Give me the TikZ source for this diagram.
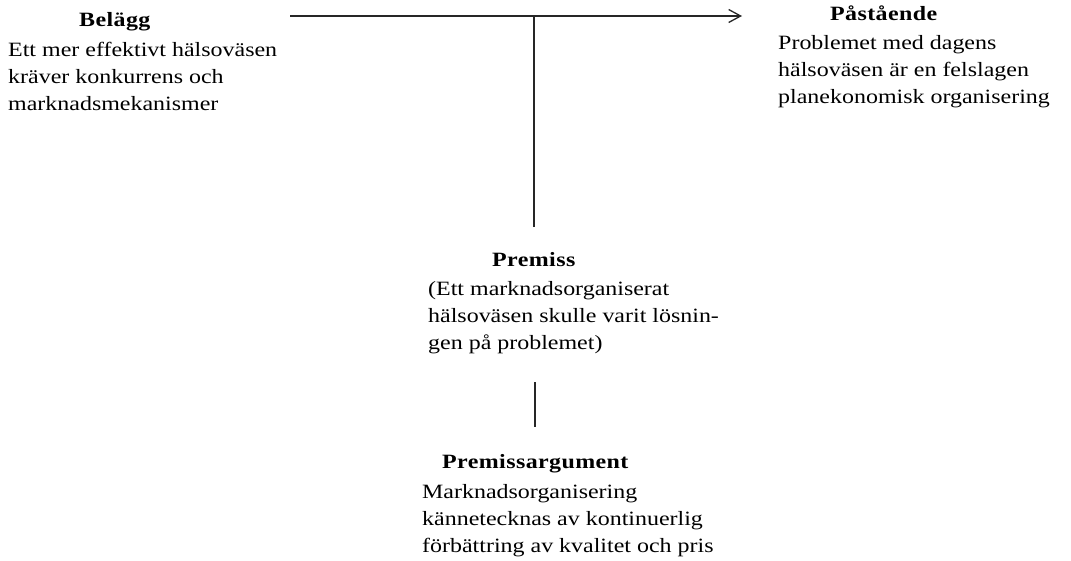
\documentclass[tikz,border=0pt]{standalone}
\usepackage{fontspec}
\setmainfont{Liberation Serif}[FakeStretch=1.18]
\newfontfamily\headfont{Liberation Serif}[FakeStretch=1.18,LetterSpace=2,UprightFont=*-Bold]
\usetikzlibrary{arrows.meta}
\begin{document}
\begin{tikzpicture}[x=1pt,y=1pt,
  % three-line blocks are placed by the baseline of their last line
  txt/.style={inner sep=0pt,anchor=base west,align=left,
              font=\fontsize{20.3}{27}\selectfont},
  head/.style={inner sep=0pt,anchor=base west,
              font=\headfont\fontsize{20.3}{27}\selectfont},
  link/.style={line width=1.3pt,black!85},
  tip/.style={-{Straight Barb[length=12pt,width=13pt,line width=1.3pt]}}]
\useasboundingbox (0,0) rectangle (1071,-560);

% Belägg
\node[head] (belaggH) at (79,-26) {Belägg};
\node[txt]  (belaggB) at (8,-110)
  {Ett mer effektivt hälsoväsen\\kräver konkurrens och\\marknadsmekanismer};

% Påstående
\node[head] (pastH) at (830,-20) {Påstående};
\node[txt]  (pastB) at (778,-103)
  {Problemet med dagens\\hälsoväsen är en felslagen\\planekonomisk organisering};

% Premiss
\node[head] (premH) at (492,-266) {Premiss};
\node[txt]  (premB) at (428,-349)
  {(Ett marknadsorganiserat\\hälsoväsen skulle varit lösnin-\\gen på problemet)};

% Premissargument
\node[head] (argH) at (442,-468) {Premissargument};
\node[txt]  (argB) at (422,-552)
  {Marknadsorganisering\\kännetecknas av kontinuerlig\\förbättring av kvalitet och pris};

% connectors
\coordinate (from) at (290,-16);
\coordinate (to)   at (742,-16);
\coordinate (join) at (534,-16);
\coordinate (premTop) at (534,-227);
\coordinate (argUp)   at (535,-382);
\coordinate (argDown) at (535,-427);

\draw[link,tip] (from) -- (to);
\draw[link] (premTop) -- (join);
\draw[link] (argUp) -- (argDown);
\end{tikzpicture}
\end{document}
